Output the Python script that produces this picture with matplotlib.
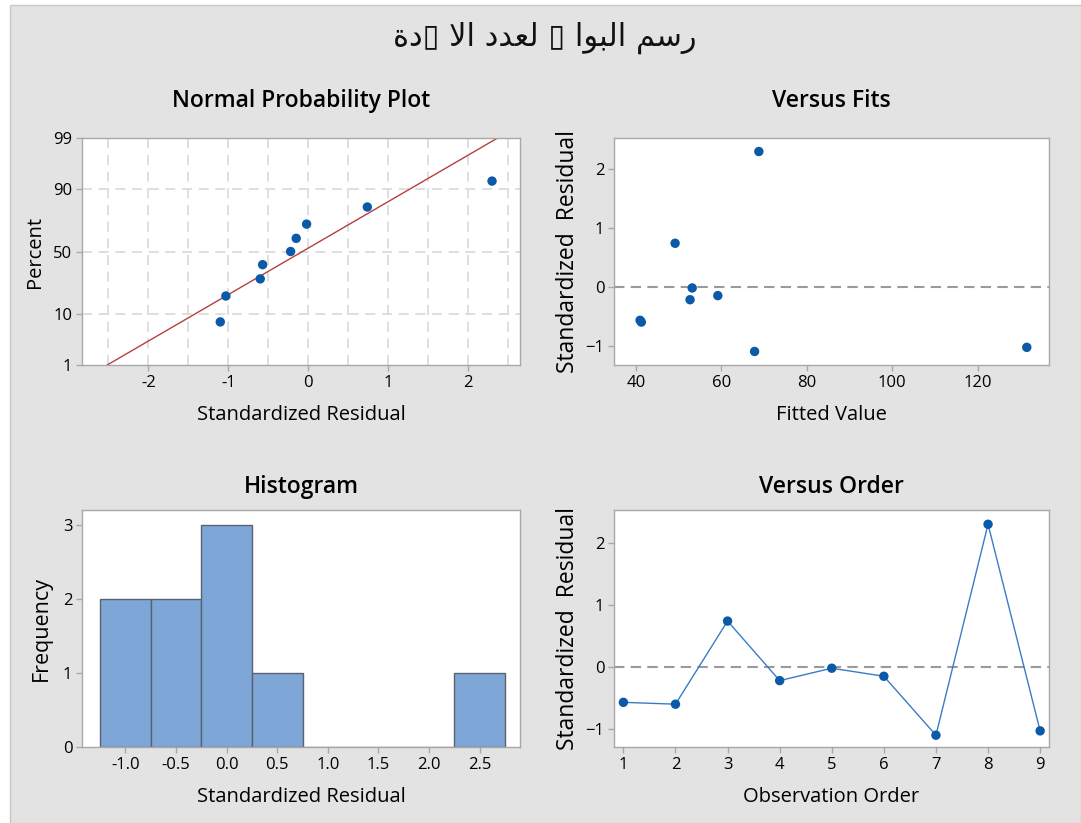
import numpy as np
import matplotlib
matplotlib.use("Agg")
import matplotlib.pyplot as plt
from matplotlib.patches import Rectangle
from statistics import NormalDist

# ---- data ----
obs_order = [1, 2, 3, 4, 5, 6, 7, 8, 9]
residuals = [-0.57, -0.60, 0.74, -0.22, -0.02, -0.15, -1.10, 2.30, -1.03]
fitted = [41.0, 41.3, 49.2, 52.7, 53.2, 59.2, 67.8, 68.8, 131.5]
hist_edges = [-1.25, -0.75, -0.25, 0.25, 0.75, 1.25, 1.75, 2.25, 2.75]
npp_yticks = [1, 10, 50, 90, 99]
npp_ygrid = [10, 50, 90]
hist_xticks = [-1.0, -0.5, 0.0, 0.5, 1.0, 1.5, 2.0, 2.5]

# title in visual order with Arabic presentation forms (box = missing glyph)
title_text = ("\uFE93\uFEA9\u25AF \uFEFB\uFE8D \uFEA9\uFEAA\uFECC\uFEDF \u25AF "
              "\uFE8D\uFEEE\uFE92\uFEDF\uFE8D \uFEE2\uFEB3\uFEAD")

plt.rcParams['font.family'] = ['Open Sans', 'DejaVu Sans']

W, H = 1081, 823
fig = plt.figure(figsize=(W / 100, H / 100), dpi=100)
fig.patch.set_facecolor('white')
bg = Rectangle((10 / W, 0), 1 - 10 / W, 1 - 5 / H, transform=fig.transFigure,
               facecolor='#e3e3e3', edgecolor='#c8c8c8', linewidth=1.0, zorder=-10)
fig.patches.append(bg)

def ax_at(l, t, r, b):
    return fig.add_axes([l / W, 1 - b / H, (r - l) / W, (b - t) / H])

pt_color = '#0b5aa8'
spine_color = '#a8a8a8'
tick_fs = 12
lab_fs = 14.5
title_fs = 16.5
pt_size = 46

def style(ax):
    ax.set_facecolor('white')
    for s in ax.spines.values():
        s.set_color(spine_color)
        s.set_linewidth(1.0)
    ax.tick_params(axis='both', which='both', length=4, width=1, color=spine_color,
                   labelsize=tick_fs, pad=3)

_nd = NormalDist()
def ppf(p):
    p = np.asarray(p, dtype=float)
    flat = np.clip(p.ravel(), 1e-6, 100 - 1e-6) / 100.0
    out = np.array([_nd.inv_cdf(v) if np.isfinite(v) else np.nan for v in flat], dtype=float)
    return out.reshape(p.shape)

def cdf(z):
    z = np.asarray(z, dtype=float)
    flat = z.ravel()
    out = np.array([_nd.cdf(v) * 100.0 if np.isfinite(v) else np.nan for v in flat], dtype=float)
    return out.reshape(z.shape)

# ---- Normal probability plot ----
ax1 = ax_at(82, 138, 520, 365)
style(ax1)
ax1.set_yscale('function', functions=(ppf, cdf))
r_sorted = np.sort(residuals)
n = len(r_sorted)
pct = (np.arange(1, n + 1) - 0.3) / (n + 0.4) * 100
mu = np.mean(residuals)
sd = np.std(residuals, ddof=1)
pline = np.linspace(1, 99, 200)
xline = mu + sd * ppf(pline)
ax1.set_xlim(-2.83, 2.65)
ax1.set_ylim(1, 99)
for gx in np.arange(-2.5, 2.51, 0.5):
    ax1.axvline(gx, color='#d9d9d9', linestyle=(0, (6, 4)), linewidth=1.2, zorder=0)
for gy in npp_ygrid:
    ax1.axhline(gy, color='#d9d9d9', linestyle=(0, (6, 4)), linewidth=1.2, zorder=0)
ax1.plot(xline, pline, color='#b5403f', linewidth=1.0, zorder=2)
ax1.scatter(r_sorted, pct, s=pt_size, color=pt_color, zorder=3, edgecolors='none')
ax1.set_yticks(npp_yticks)
ax1.set_yticklabels([str(v) for v in npp_yticks])
ax1.set_xticks([-2, -1, 0, 1, 2])
ax1.set_xticklabels(['-2', '-1', '0', '1', '2'])
ax1.minorticks_off()
ax1.set_title('Normal Probability Plot', fontsize=title_fs, fontweight='semibold', pad=22)
ax1.set_xlabel('Standardized Residual', fontsize=lab_fs, labelpad=10)
ax1.set_ylabel('Percent', fontsize=lab_fs, labelpad=6)

# ---- Versus fits ----
ax2 = ax_at(614, 138, 1049, 365)
style(ax2)
ax2.set_xlim(34.9, 136.7)
ax2.set_ylim(-1.33, 2.53)
ax2.axhline(0, color='#9a9a9a', linestyle=(0, (5, 3)), linewidth=1.5, zorder=1)
ax2.scatter(fitted, residuals, s=pt_size, color=pt_color, zorder=3, edgecolors='none')
ax2.set_xticks([40, 60, 80, 100, 120])
ax2.set_yticks([-1, 0, 1, 2])
ax2.set_title('Versus Fits', fontsize=title_fs, fontweight='semibold', pad=22)
ax2.set_xlabel('Fitted Value', fontsize=lab_fs, labelpad=10)
ax2.set_ylabel('Standardized  Residual', fontsize=16.5, labelpad=4)

# ---- Histogram ----
ax3 = ax_at(82, 510, 520, 747)
style(ax3)
ax3.hist(residuals, bins=hist_edges, color='#7ea7d8', edgecolor='#5a6270', linewidth=1.0)
ax3.set_xlim(-1.43, 2.90)
ax3.set_ylim(0, 3.2)
ax3.set_xticks(hist_xticks)
ax3.set_xticklabels([f'{v:.1f}' for v in hist_xticks])
ax3.set_yticks([0, 1, 2, 3])
ax3.set_title('Histogram', fontsize=title_fs, fontweight='semibold', pad=12)
ax3.set_xlabel('Standardized Residual', fontsize=lab_fs, labelpad=10)
ax3.set_ylabel('Frequency', fontsize=lab_fs + 1, labelpad=8)

# ---- Versus order ----
ax4 = ax_at(614, 510, 1049, 747)
style(ax4)
ax4.set_xlim(0.82, 9.17)
ax4.set_ylim(-1.29, 2.53)
ax4.axhline(0, color='#9a9a9a', linestyle=(0, (5, 3)), linewidth=1.5, zorder=1)
ax4.plot(obs_order, residuals, color='#3a7cc4', linewidth=1.0, zorder=2)
ax4.scatter(obs_order, residuals, s=pt_size, color=pt_color, zorder=3, edgecolors='none')
ax4.set_xticks(obs_order)
ax4.set_yticks([-1, 0, 1, 2])
ax4.set_title('Versus Order', fontsize=title_fs, fontweight='semibold', pad=12)
ax4.set_xlabel('Observation Order', fontsize=lab_fs, labelpad=10)
ax4.set_ylabel('Standardized  Residual', fontsize=16.5, labelpad=4)

fig.text(545 / W, 1 - 38 / H, title_text, ha='center', va='center', fontsize=22,
         family=['DejaVu Sans'], color='#111111')

fig.savefig('out.png', dpi=100, facecolor=fig.get_facecolor())
